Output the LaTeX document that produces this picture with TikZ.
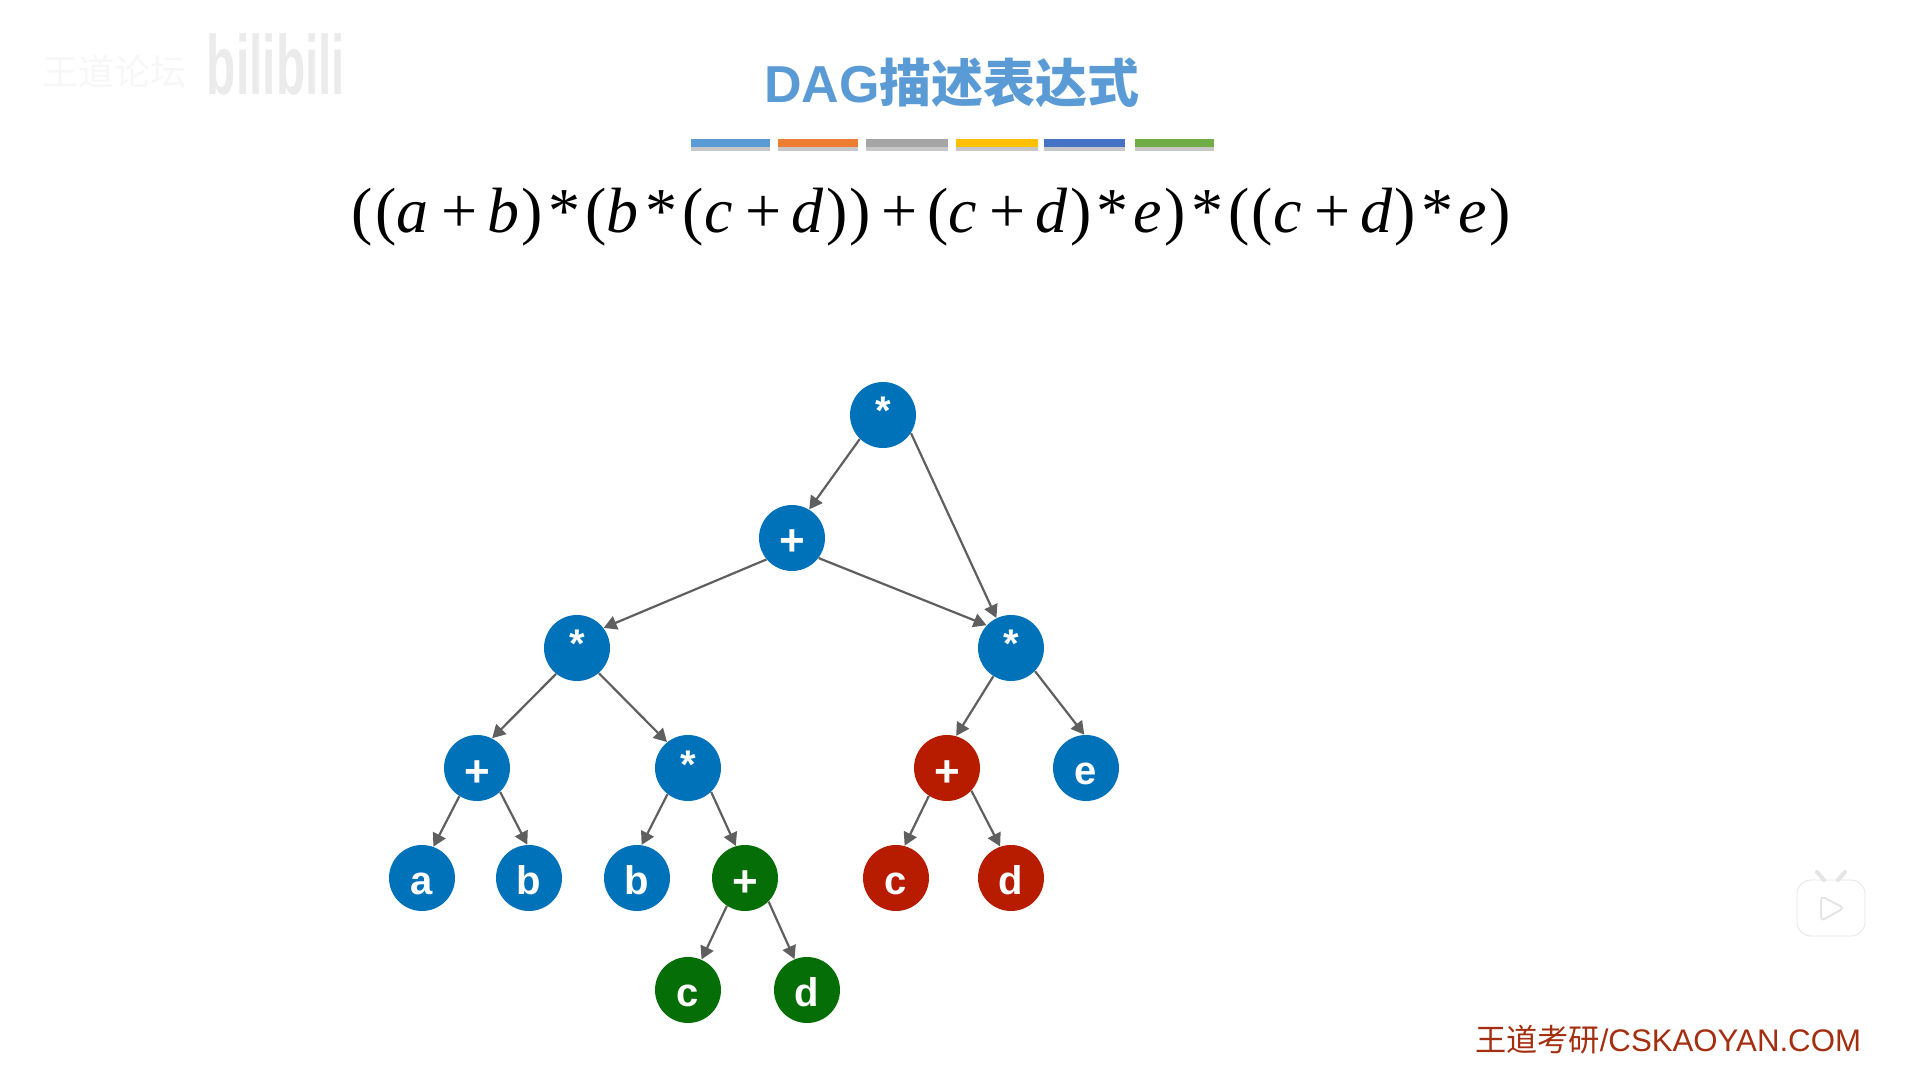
\documentclass[tikz,border=0pt]{standalone}
\usepackage{fontspec}
\setmainfont{Liberation Sans}
\newfontfamily\cjk{Noto Sans CJK SC}
\newfontfamily\timesf[LetterSpace=4]{Liberation Serif}
\usetikzlibrary{arrows.meta}
\definecolor{nodeblue}{HTML}{0072BA}
\definecolor{nodered}{HTML}{B81C00}
\definecolor{nodegreen}{HTML}{066E06}
\definecolor{edgegray}{HTML}{5F5F5F}
\definecolor{titleblue}{HTML}{5B9BD5}
\definecolor{footred}{HTML}{A32E10}
\definecolor{barorange}{HTML}{ED7D31}
\definecolor{bargray}{HTML}{A5A5A5}
\definecolor{baryellow}{HTML}{FFC000}
\definecolor{barblue}{HTML}{4472C4}
\definecolor{bargreen}{HTML}{70AD47}
\tikzset{
  vertex/.style={circle, minimum size=33pt, inner sep=0pt, text=white, text height=16pt, text depth=0pt, font=\bfseries\fontsize{20}{20}\selectfont},
  blue vertex/.style={vertex, fill=nodeblue},
  red vertex/.style={vertex, fill=nodered},
  green vertex/.style={vertex, fill=nodegreen},
  edge/.style={-{Triangle[length=6.5pt,width=7pt]}, draw=edgegray, line width=1.1pt},
  mark text/.style={inner sep=0pt, text=black!#1}
}
\newcommand{\il}[1]{\textit{#1}}
\newcommand{\pl}{\hspace{5pt}+\hspace{5pt}}
\newcommand{\st}{\hspace{2.5pt}*\hspace{2.5pt}}
\newcommand{\mulsign}{\raisebox{3pt}[0pt][0pt]{*}}
\newcommand{\addsign}{\raisebox{-1pt}[0pt][0pt]{\fontsize{22}{22}\selectfont +}}
\begin{document}
\begin{tikzpicture}[x=0.5pt, y=-0.5pt]
    \useasboundingbox (0,0) rectangle (1908,1069);

    % marks of the video site
    \node[mark text=3, font=\cjk\fontsize{18}{18}\selectfont] (site) at (114,72) {王道论坛};
    \node[mark text=8, font=\bfseries\fontsize{42}{42}\selectfont, xscale=0.57] (logo) at (276,64) {bilibili};
    \fill[white, draw=black!10, rounded corners=7pt] (1797,880) rectangle (1865,936);
    \draw[black!10, line width=2pt, line cap=round] (1817,872) -- (1824,880) (1845,872) -- (1838,880);
    \draw[black!10, line width=1pt, rounded corners=2pt] (1821,896) -- (1844,908) -- (1821,921) -- cycle;

    % heading
    \node[text=titleblue, inner sep=0pt, font=\bfseries\fontsize{26}{26}\selectfont] (title) at (952,83) {DAG{\cjk 描述表达式}};
    \foreach \xa/\xb/\barcol in {691/770/titleblue, 778/858/barorange, 866/948/bargray, 956/1038/baryellow, 1044/1125/barblue, 1135/1214/bargreen} {
        \fill[black!22] (\xa,146) rectangle (\xb,151);
        \fill[\barcol] (\xa,139) rectangle (\xb,147);
    }
    \node[inner sep=0pt, font=\timesf\fontsize{32}{32}\selectfont] (formula) at (931,217)
      {((\il{a}\pl\il{b})\st(\il{b}\st(\il{c}\pl\il{d}))\pl(\il{c}\pl\il{d})\st\il{e})\st((\il{c}\pl\il{d})\st\il{e})};

    % tree
    \node[blue vertex] (root) at (883,415) {\mulsign};
    \node[blue vertex] (sum) at (792,538) {\addsign};
    \node[blue vertex] (left) at (577,648) {\mulsign};
    \node[blue vertex] (right) at (1011,648) {\mulsign};
    \node[blue vertex] (ab) at (477,768) {\addsign};
    \node[blue vertex] (mul) at (688,768) {\mulsign};
    \node[red vertex] (cd) at (947,768) {\addsign};
    \node[blue vertex] (e) at (1086,768) {e};
    \node[blue vertex] (a) at (422,878) {a};
    \node[blue vertex] (b) at (529,878) {b};
    \node[blue vertex] (bb) at (637,878) {b};
    \node[green vertex] (gcd) at (745,878) {\addsign};
    \node[red vertex] (rc) at (896,878) {c};
    \node[red vertex] (rd) at (1011,878) {d};
    \node[green vertex] (gc) at (688,990) {c};
    \node[green vertex] (gd) at (807,990) {d};

    \draw[edge] (root.-134) -- (sum.59);
    \draw[edge] (root.-33) -- (right.116);
    \draw[edge] (sum.220) -- (left.37);
    \draw[edge] (sum.-37) -- (right.137);
    \draw[edge] (left.-129) -- (ab.63);
    \draw[edge] (left.-49) -- (mul.129);
    \draw[edge] (right.-122) -- (cd.74);
    \draw[edge] (right.-44) -- (e.93);
    \draw[edge] (ab.-122) -- (a.70);
    \draw[edge] (ab.-46) -- (b.93);
    \draw[edge] (mul.-128) -- (bb.82);
    \draw[edge] (mul.-46) -- (gcd.106);
    \draw[edge] (gcd.-123) -- (gc.66);
    \draw[edge] (gcd.-45) -- (gd.112);
    \draw[edge] (cd.-123) -- (rc.75);
    \draw[edge] (cd.-43) -- (rd.109);

    % footer
    \node[text=footred, inner sep=0pt, font=\fontsize{15.6}{15.6}\selectfont] (foot) at (1668,1040) {{\cjk 王道考研}/CSKAOYAN.COM};
\end{tikzpicture}
\end{document}
